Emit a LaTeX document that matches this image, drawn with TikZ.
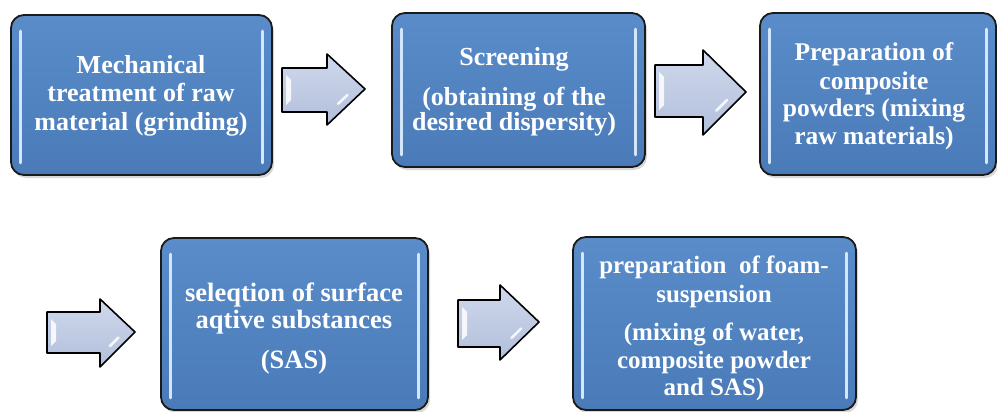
\documentclass[tikz,border=0pt]{standalone}
\usepackage{fontspec}
\setmainfont{Liberation Serif}
\usetikzlibrary{shadows,calc}
\definecolor{boxtop}{HTML}{5A8CCA}
\definecolor{boxbot}{HTML}{4A7BB8}
\definecolor{boxline}{HTML}{1A1A1A}
\definecolor{glow}{HTML}{D2E8FA}
\definecolor{arrtop}{HTML}{CFD8EC}
\definecolor{arrbot}{HTML}{B2BFDB}
\tikzset{
  stepbox/.style={draw=boxline, line width=1.8pt, rounded corners=13pt, inner sep=0pt,
    top color=boxtop, bottom color=boxbot,
    drop shadow={shadow xshift=2pt,shadow yshift=-3pt,opacity=0.3}},
  steptext/.style={text=white, inner sep=0pt, anchor=base, font=\bfseries\fontsize{25.5}{28}\selectfont},
  bigtext/.style={steptext, font=\bfseries\fontsize{26}{28}\selectfont},
  largetext/.style={steptext, font=\bfseries\fontsize{26.5}{28}\selectfont},
  smalltext/.style={steptext, font=\bfseries\fontsize{25}{28}\selectfont},
  glowline/.style={draw=glow, line width=3pt, line cap=round},
  blockarr/.style={draw=black, line width=1.6pt, line join=round, top color=arrtop, bottom color=arrbot},
  shine/.style={fill=white, fill opacity=0.85, draw=none},
  shineline/.style={draw=white, draw opacity=0.85, line width=2.5pt, line cap=round},
}
\newcommand\blockarrow[8]{%
  \draw[blockarr] (#1,#2) -- (#4,#2) -- (#4,#5) -- (#7,#8) -- (#4,#6) -- (#4,#3) -- (#1,#3) -- cycle;
  \fill[shine] (#1+4,#2+7) -- (#1+9,#2+12) -- (#1+9,#3-12) -- (#1+4,#3-7) -- cycle;
  \draw[shineline] ($(#7,#8)!0.3!(#4,#6)+(-6,-5)$) -- ($(#7,#8)!0.55!(#4,#6)+(-6,-5)$);
}
\newcommand\glowpair[1]{%
  \draw[glowline] ([xshift=10pt,yshift=-17pt]#1.north west) -- ([xshift=10pt,yshift=13pt]#1.south west);
  \draw[glowline] ([xshift=-10pt,yshift=-17pt]#1.north east) -- ([xshift=-10pt,yshift=13pt]#1.south east);
}
\begin{document}
\begin{tikzpicture}[x=1pt,y=-1pt]
\useasboundingbox (0,0) rectangle (997,412);
\fill[white] (0,0) rectangle (997,412);

% boxes
\node[stepbox, minimum width=261pt, minimum height=160pt] (b1) at (141.5,95) {};
\node[stepbox, minimum width=253pt, minimum height=154pt] (b2) at (518.5,90) {};
\node[stepbox, minimum width=236pt, minimum height=162pt] (b3) at (878,94) {};
\node[stepbox, minimum width=267pt, minimum height=172pt] (b4) at (294.5,324) {};
\node[stepbox, minimum width=283pt, minimum height=173pt] (b5) at (714.5,323.5) {};
\glowpair{b1}
\glowpair{b2}
\glowpair{b3}
\glowpair{b4}
\glowpair{b5}

% texts
\node[bigtext] (t1a) at (141,74) {Mechanical};
\node[bigtext] (t1b) at (141,102) {treatment of raw};
\node[bigtext] (t1c) at (141,130) {material (grinding)};

\node[bigtext] (t2a) at (514,66) {Screening};
\node[bigtext] (t2b) at (514,106) {(obtaining of the};
\node[bigtext] (t2c) at (514,131) {desired dispersity)};

\node[steptext] (t3a) at (874,61) {Preparation of};
\node[steptext] (t3b) at (874,89) {composite};
\node[steptext] (t3c) at (874,117) {powders (mixing};
\node[steptext] (t3d) at (874,144) {raw materials)};

\node[largetext] (t4a) at (294,301) {seleqtion of surface};
\node[largetext] (t4b) at (294,328) {aqtive substances};
\node[largetext] (t4c) at (294,368) {(SAS)};

\node[smalltext] (t5a) at (714,273) {preparation \ of foam-};
\node[smalltext] (t5b) at (714,302) {suspension};
\node[smalltext] (t5c) at (714,340) {(mixing of water,};
\node[smalltext] (t5d) at (714,368) {composite powder};
\node[smalltext] (t5e) at (714,395) {and SAS)};

% block arrows
\blockarrow{282}{68}{112}{327}{54}{125}{365}{89}
\blockarrow{655}{65}{117}{703}{50}{135}{746}{92}
\blockarrow{47}{312}{353}{100}{299}{367}{135}{332}
\blockarrow{458}{300}{347}{500}{285}{360}{539}{322}
\end{tikzpicture}
\end{document}
